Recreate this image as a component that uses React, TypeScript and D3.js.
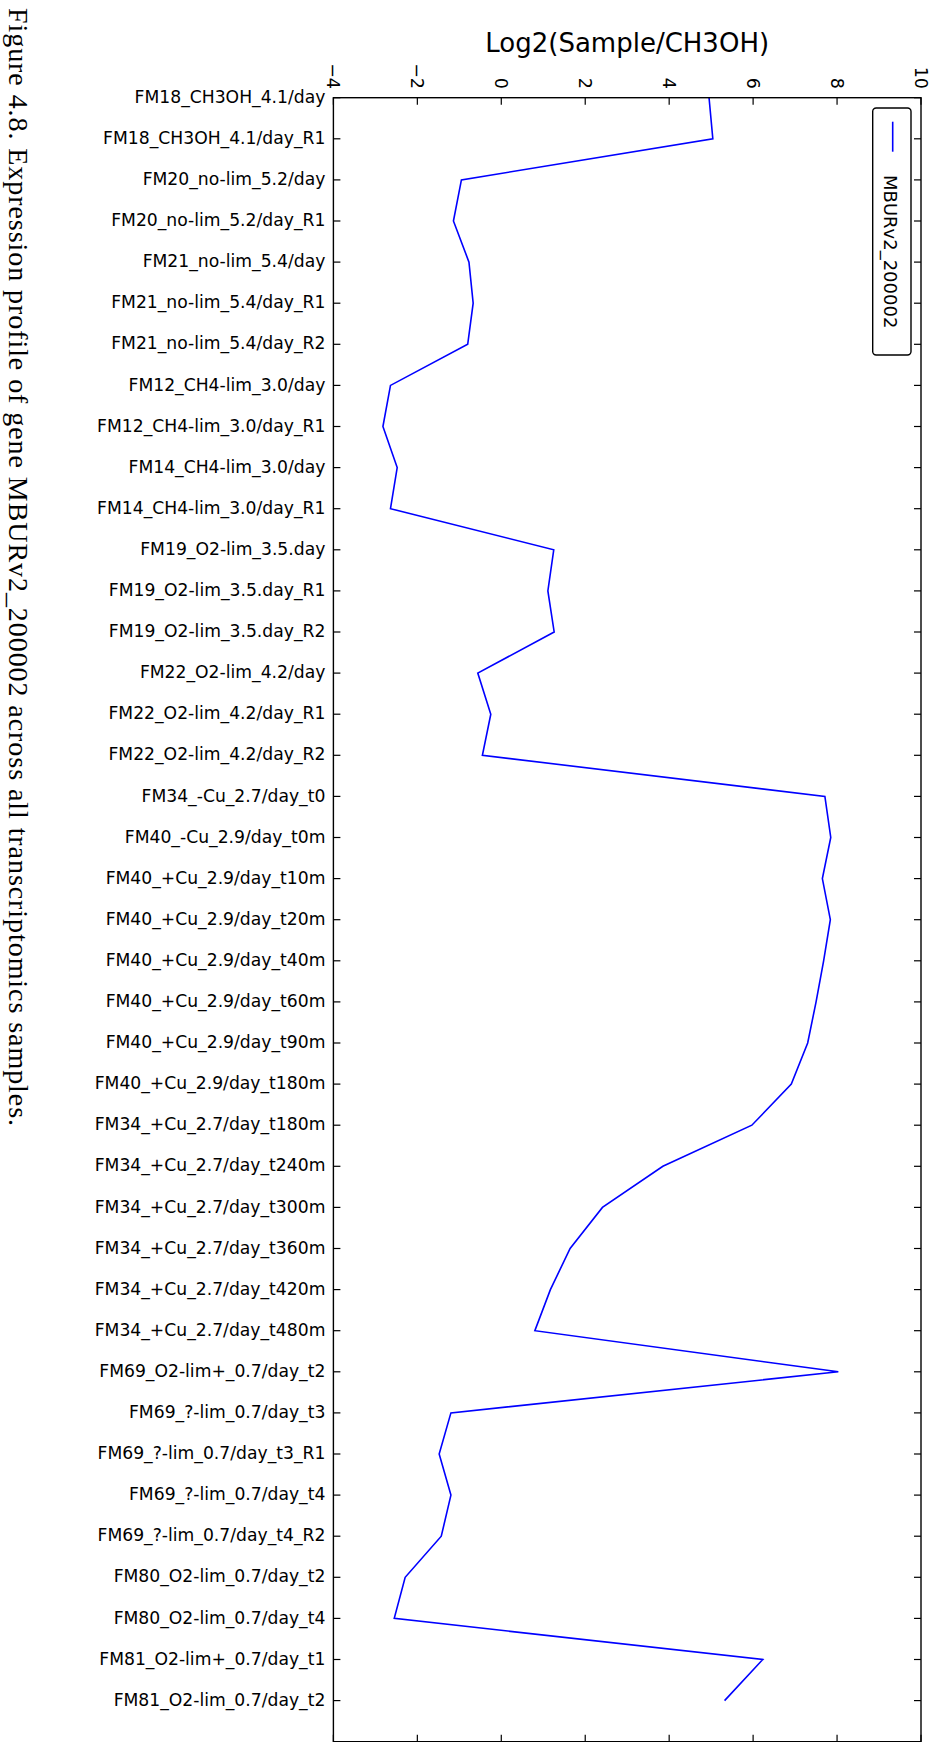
import React from "react";
import * as d3 from "d3";

// Sample conditions, listed top to bottom
const categories: string[] = [
  "FM18_CH3OH_4.1/day",
  "FM18_CH3OH_4.1/day_R1",
  "FM20_no-lim_5.2/day",
  "FM20_no-lim_5.2/day_R1",
  "FM21_no-lim_5.4/day",
  "FM21_no-lim_5.4/day_R1",
  "FM21_no-lim_5.4/day_R2",
  "FM12_CH4-lim_3.0/day",
  "FM12_CH4-lim_3.0/day_R1",
  "FM14_CH4-lim_3.0/day",
  "FM14_CH4-lim_3.0/day_R1",
  "FM19_O2-lim_3.5.day",
  "FM19_O2-lim_3.5.day_R1",
  "FM19_O2-lim_3.5.day_R2",
  "FM22_O2-lim_4.2/day",
  "FM22_O2-lim_4.2/day_R1",
  "FM22_O2-lim_4.2/day_R2",
  "FM34_-Cu_2.7/day_t0",
  "FM40_-Cu_2.9/day_t0m",
  "FM40_+Cu_2.9/day_t10m",
  "FM40_+Cu_2.9/day_t20m",
  "FM40_+Cu_2.9/day_t40m",
  "FM40_+Cu_2.9/day_t60m",
  "FM40_+Cu_2.9/day_t90m",
  "FM40_+Cu_2.9/day_t180m",
  "FM34_+Cu_2.7/day_t180m",
  "FM34_+Cu_2.7/day_t240m",
  "FM34_+Cu_2.7/day_t300m",
  "FM34_+Cu_2.7/day_t360m",
  "FM34_+Cu_2.7/day_t420m",
  "FM34_+Cu_2.7/day_t480m",
  "FM69_O2-lim+_0.7/day_t2",
  "FM69_?-lim_0.7/day_t3",
  "FM69_?-lim_0.7/day_t3_R1",
  "FM69_?-lim_0.7/day_t4",
  "FM69_?-lim_0.7/day_t4_R2",
  "FM80_O2-lim_0.7/day_t2",
  "FM80_O2-lim_0.7/day_t4",
  "FM81_O2-lim+_0.7/day_t1",
  "FM81_O2-lim_0.7/day_t2",
];

// Log2(Sample/CH3OH) for MBURv2_200002
const values: number[] = [
  4.95, 5.04, -0.95, -1.14, -0.77, -0.67, -0.8,
  -2.64, -2.82, -2.48, -2.64, 1.25, 1.11, 1.26,
  -0.56, -0.25, -0.45, 7.71, 7.85, 7.65,
  7.84, 7.68, 7.5, 7.3, 6.91, 5.97, 3.85,
  2.41, 1.64, 1.17, 0.8, 8.03, -1.2,
  -1.48, -1.2, -1.43, -2.29, -2.55, 6.23, 5.32,
];

const valueTicks: number[] = [-4, -2, 0, 2, 4, 6, 8, 10];
const seriesName = "MBURv2_200002";
const axisTitle = "Log2(Sample/CH3OH)";
const caption =
  "Figure 4.8. Expression profile of gene MBURv2_200002 across all transcriptomics samples.";

const W = 939;
const H = 1742;
const frame = { left: 333.4, right: 921, top: 97.7, bottom: 1741.7 };
const TICK = 7;
const sans = "'DejaVu Sans', sans-serif";

export default function App() {
  const x = d3.scaleLinear().domain([-4, 10]).range([frame.left, frame.right]);
  const y = d3.scaleLinear().domain([0, 40]).range([frame.top, frame.bottom]);

  const line = d3
    .line<number>()
    .x((d) => x(d))
    .y((_, i) => y(i));

  const fmt = (t: number) => (t < 0 ? "\u2212" + Math.abs(t) : String(t));

  return (
    <svg
      width={W}
      height={H}
      style={{ position: "absolute", left: 0, top: 0, background: "#fff" }}
    >
      <rect x={0} y={0} width={W} height={H} fill="#fff" />

      {/* caption, running down the left edge */}
      <text
        transform={`translate(9,8) rotate(90)`}
        fontFamily="'Liberation Serif', 'Times New Roman', serif"
        fontSize={28}
        textLength={1118}
        lengthAdjust="spacing"
        fill="#000"
      >
        {caption}
      </text>

      {/* value axis title */}
      <text
        x={(frame.left + frame.right) / 2}
        y={52}
        textAnchor="middle"
        fontFamily={sans}
        fontSize={26}
        fill="#000"
      >
        {axisTitle}
      </text>

      {/* value ticks top and bottom, pointing inward */}
      {valueTicks.map((t) => (
        <g key={"vt" + t}>
          <line x1={x(t)} x2={x(t)} y1={frame.top} y2={frame.top + TICK} stroke="#000" strokeWidth={1.2} />
          <line x1={x(t)} x2={x(t)} y1={frame.bottom} y2={frame.bottom - TICK} stroke="#000" strokeWidth={1.2} />
          <text
            transform={`translate(${x(t)},89) rotate(90)`}
            textAnchor="end"
            dominantBaseline="central"
            fontFamily={sans}
            fontSize={17.5}
            fill="#000"
          >
            {fmt(t)}
          </text>
        </g>
      ))}

      {/* category ticks left and right, with labels */}
      {categories.map((c, i) => (
        <g key={"ct" + i}>
          <line x1={frame.left} x2={frame.left + TICK} y1={y(i)} y2={y(i)} stroke="#000" strokeWidth={1.2} />
          <line x1={frame.right} x2={frame.right - TICK} y1={y(i)} y2={y(i)} stroke="#000" strokeWidth={1.2} />
          <text
            x={frame.left - 8}
            y={y(i)}
            dy="0.3em"
            textAnchor="end"
            fontFamily={sans}
            fontSize={17.2}
            fill="#000"
          >
            {c}
          </text>
        </g>
      ))}

      {/* expression profile */}
      <path d={line(values) || ""} fill="none" stroke="#0000ff" strokeWidth={1.6} strokeLinejoin="miter" />

      {/* plot frame */}
      <rect
        x={frame.left}
        y={frame.top}
        width={frame.right - frame.left}
        height={frame.bottom - frame.top}
        fill="none"
        stroke="#000"
        strokeWidth={1.4}
      />

      {/* legend */}
      <g>
        <rect x={872.7} y={108} width={38.3} height={247} rx={3.5} fill="#fff" stroke="#000" strokeWidth={1.4} />
        <line x1={892.7} x2={892.7} y1={121.7} y2={151.7} stroke="#0000ff" strokeWidth={1.6} />
        <text
          transform={`translate(884,175) rotate(90)`}
          fontFamily={sans}
          fontSize={18}
          fill="#000"
        >
          {seriesName}
        </text>
      </g>
    </svg>
  );
}
